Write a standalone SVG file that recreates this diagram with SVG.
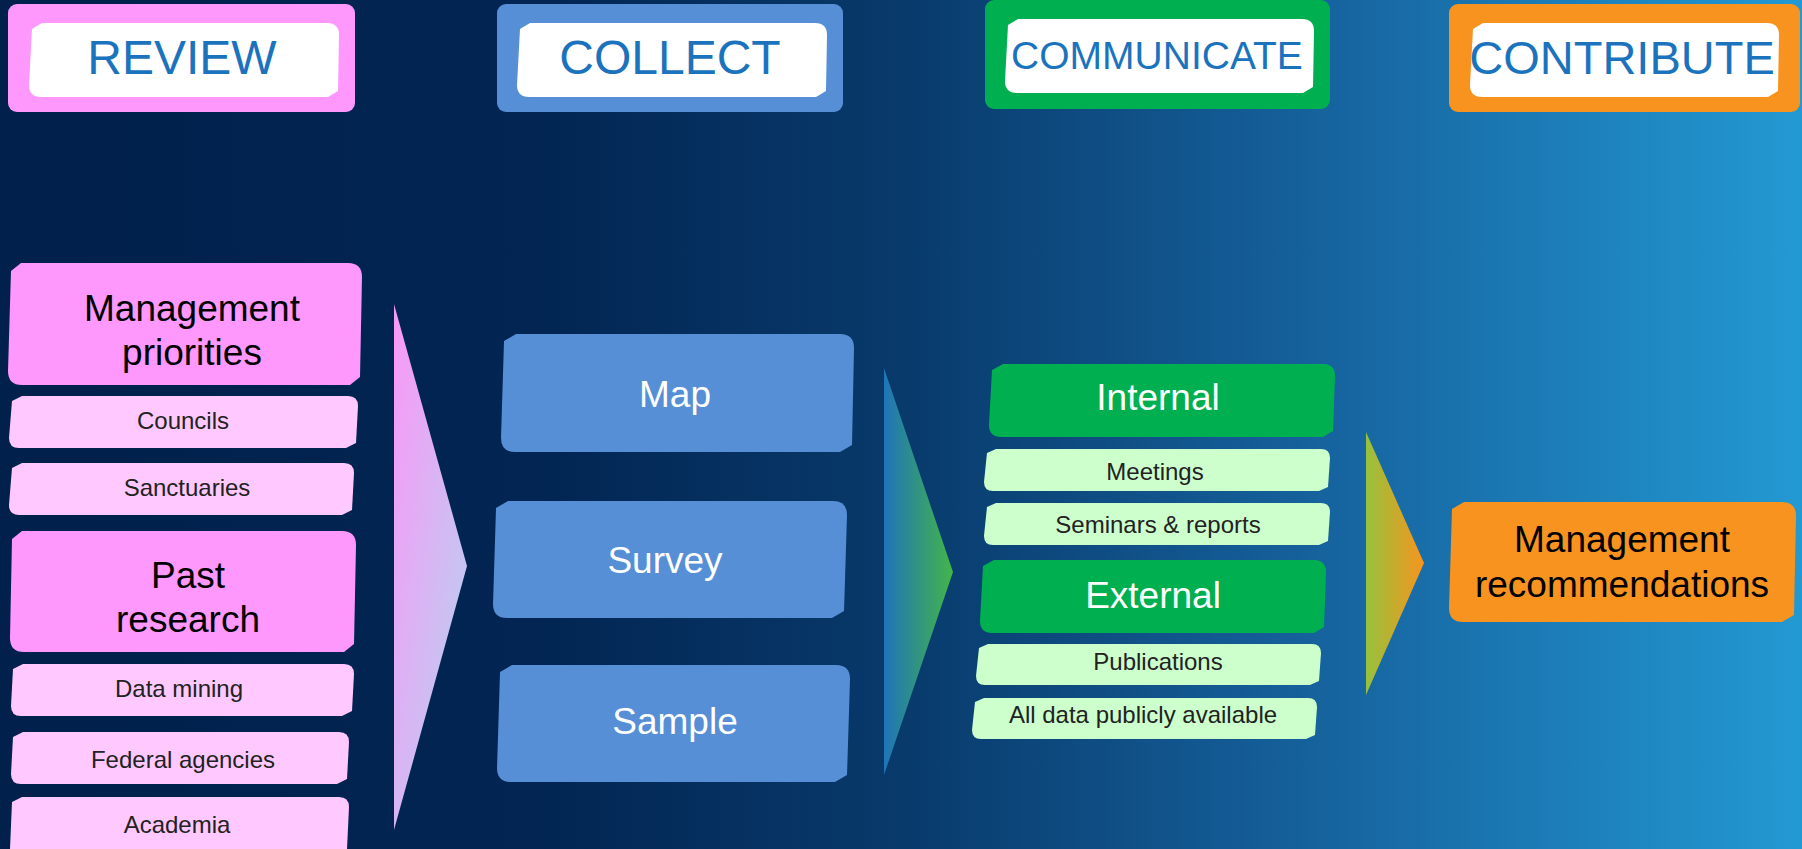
<svg xmlns="http://www.w3.org/2000/svg" width="1802" height="849" viewBox="0 0 1802 849">
<defs>
<linearGradient id="bg" x1="0" y1="0" x2="1" y2="0">
<stop offset="0" stop-color="#01204b"/>
<stop offset="0.3" stop-color="#022553"/>
<stop offset="0.5" stop-color="#083a6b"/>
<stop offset="0.72" stop-color="#15609b"/>
<stop offset="1" stop-color="#2399d3"/>
</linearGradient>
<linearGradient id="g1" x1="0" y1="0" x2="1" y2="1">
<stop offset="0" stop-color="#fa98f8"/>
<stop offset="1" stop-color="#b4d4ee"/>
</linearGradient>
<linearGradient id="g2" x1="0" y1="0" x2="1" y2="0">
<stop offset="0" stop-color="#1f74b8"/>
<stop offset="1" stop-color="#44b549"/>
</linearGradient>
<linearGradient id="g3" x1="0" y1="0" x2="1" y2="0">
<stop offset="0" stop-color="#96c23c"/>
<stop offset="1" stop-color="#f7941e"/>
</linearGradient>
</defs>
<style>
.t{font-family:"Liberation Sans",Arial,sans-serif;text-anchor:middle}
.hdr{font-size:48px;fill:#1c73bd}
.big{font-size:37px}
.sm{font-size:24px;fill:#222}
.pk{fill:#fe98fd}.lpk{fill:#ffc9ff}.bl{fill:#568fd6}.gr{fill:#00b050}.lgr{fill:#ccffcc}.or{fill:#f7931e}.wh{fill:#fff}
</style>
<rect width="1802" height="849" fill="url(#bg)"/>

<g id="hdr-review">
<rect class="pk" x="8" y="4" width="347" height="108" rx="9"/>
<path class="wh" d="M32 29 L42 23 L327 23 Q339 23 339 35 L338 91 L328 97 L41 97 Q29 97 29 85 Z"/>
<text class="t hdr" x="182" y="74">REVIEW</text>
</g>
<g id="hdr-collect">
<rect class="bl" x="497" y="4" width="346" height="108" rx="9"/>
<path class="wh" d="M520 29 L530 23 L815 23 Q827 23 827 35 L826 91 L816 97 L529 97 Q517 97 517 85 Z"/>
<text class="t hdr" x="670" y="74">COLLECT</text>
</g>
<g id="hdr-communicate">
<rect class="gr" x="985" y="0" width="345" height="109" rx="9"/>
<path class="wh" d="M1008 25 L1018 19 L1302 19 Q1314 19 1314 31 L1313 87 L1303 93 L1017 93 Q1005 93 1005 81 Z"/>
<text class="t hdr" x="1157" y="69" style="font-size:39px">COMMUNICATE</text>
</g>
<g id="hdr-contribute">
<rect class="or" x="1449" y="4" width="351" height="108" rx="9"/>
<path class="wh" d="M1473 29 L1483 23 L1767 23 Q1779 23 1779 35 L1778 91 L1768 97 L1482 97 Q1470 97 1470 85 Z"/>
<text class="t hdr" x="1622" y="74" style="font-size:47px">CONTRIBUTE</text>
</g>

<g id="connectors">
<polygon points="394,304 467,566 394,830" fill="url(#g1)"/>
<polygon points="884,368 953,572 884,775" fill="url(#g2)"/>
<polygon points="1366,432 1424,563 1366,695" fill="url(#g3)"/>
</g>

<g id="mgmt-priorities">
<path class="pk" d="M11 271 L21 263 L348 263 Q362 263 362 277 L360 377 L350 385 L22 385 Q8 385 8 371 Z"/>
<text class="t big" x="192" y="321">Management</text>
<text class="t big" x="192" y="365">priorities</text>
</g>
<g id="councils">
<path class="lpk" d="M12 401 L22 396 L348 396 Q358 396 358 406 L356 443 L346 448 L19 448 Q9 448 9 438 Z"/>
<text class="t sm" x="183" y="429">Councils</text>
</g>
<g id="sanctuaries">
<path class="lpk" d="M12 468 L22 463 L344 463 Q354 463 354 473 L352 510 L342 515 L19 515 Q9 515 9 505 Z"/>
<text class="t sm" x="187" y="496">Sanctuaries</text>
</g>
<g id="past-research">
<path class="pk" d="M12 539 L22 531 L342 531 Q356 531 356 545 L354 644 L344 652 L24 652 Q10 652 10 638 Z"/>
<text class="t big" x="188" y="588">Past</text>
<text class="t big" x="188" y="632">research</text>
</g>
<g id="data-mining">
<path class="lpk" d="M13 669 L23 664 L344 664 Q354 664 354 674 L352 711 L342 716 L21 716 Q11 716 11 706 Z"/>
<text class="t sm" x="179" y="697">Data mining</text>
</g>
<g id="federal-agencies">
<path class="lpk" d="M13 737 L23 732 L339 732 Q349 732 349 742 L347 779 L337 784 L21 784 Q11 784 11 774 Z"/>
<text class="t sm" x="183" y="768">Federal agencies</text>
</g>
<g id="academia">
<path class="lpk" d="M12 802 L22 797 L339 797 Q349 797 349 807 L347 849 L10 849 Z"/>
<text class="t sm" x="177" y="833">Academia</text>
</g>

<g id="map">
<path class="bl" d="M504 341 L516 334 L840 334 Q854 334 854 348 L852 445 L840 452 L515 452 Q501 452 501 438 Z"/>
<text class="t big" x="675" y="407" fill="#fff">Map</text>
</g>
<g id="survey">
<path class="bl" d="M496 508 L508 501 L833 501 Q847 501 847 515 L844 611 L832 618 L507 618 Q493 618 493 604 Z"/>
<text class="t big" x="665" y="573" fill="#fff">Survey</text>
</g>
<g id="sample">
<path class="bl" d="M500 672 L512 665 L836 665 Q850 665 850 679 L847 775 L835 782 L511 782 Q497 782 497 768 Z"/>
<text class="t big" x="675" y="734" fill="#fff">Sample</text>
</g>

<g id="internal">
<path class="gr" d="M992 370 L1003 364 L1323 364 Q1335 364 1335 376 L1333 431 L1323 437 L1001 437 Q989 437 989 425 Z"/>
<text class="t big" x="1158" y="410" fill="#fff">Internal</text>
</g>
<g id="meetings">
<path class="lgr" d="M987 453 L996 449 L1321 449 Q1330 449 1330 458 L1328 487 L1319 491 L993 491 Q984 491 984 482 Z"/>
<text class="t sm" x="1155" y="480" fill="#111">Meetings</text>
</g>
<g id="seminars">
<path class="lgr" d="M987 507 L996 503 L1321 503 Q1330 503 1330 512 L1328 541 L1319 545 L993 545 Q984 545 984 536 Z"/>
<text class="t sm" x="1158" y="533" fill="#111">Seminars &amp; reports</text>
</g>
<g id="external">
<path class="gr" d="M983 566 L994 560 L1314 560 Q1326 560 1326 572 L1324 627 L1314 633 L992 633 Q980 633 980 621 Z"/>
<text class="t big" x="1153" y="608" fill="#fff">External</text>
</g>
<g id="publications">
<path class="lgr" d="M979 648 L988 644 L1312 644 Q1321 644 1321 653 L1319 681 L1310 685 L985 685 Q976 685 976 676 Z"/>
<text class="t sm" x="1158" y="670" fill="#111">Publications</text>
</g>
<g id="all-data">
<path class="lgr" d="M975 702 L984 698 L1308 698 Q1317 698 1317 707 L1315 735 L1306 739 L981 739 Q972 739 972 730 Z"/>
<text class="t sm" x="1143" y="723" fill="#111">All data publicly available</text>
</g>

<g id="mgmt-recommendations">
<path class="or" d="M1452 509 L1464 502 L1782 502 Q1796 502 1796 516 L1794 615 L1782 622 L1463 622 Q1449 622 1449 608 Z"/>
<text class="t big" x="1622" y="552" fill="#000">Management</text>
<text class="t big" x="1622" y="597" fill="#000">recommendations</text>
</g>
</svg>
